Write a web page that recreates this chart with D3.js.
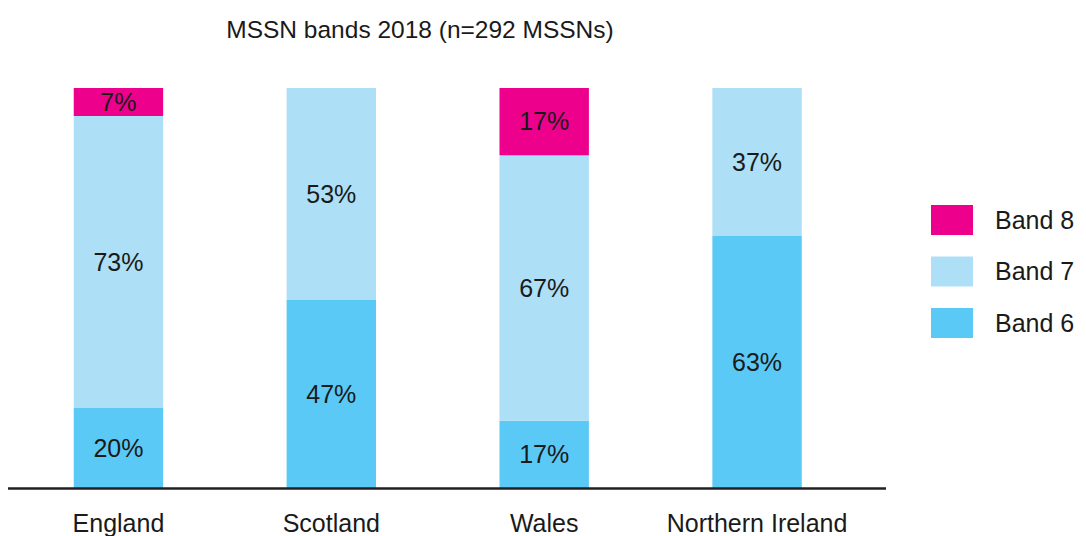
<!DOCTYPE html>
<html>
<head>
<meta charset="utf-8">
<script src="https://cdn.jsdelivr.net/npm/d3@7"></script>
<style>
  body { margin: 0; background: #fff; }
  text { font-family: "Liberation Sans", Arial, Helvetica, sans-serif; fill: #1a1a1a; }
</style>
</head>
<body>
<div id="chart"></div>
<script>
const countries = ['England', 'Scotland', 'Wales', 'Northern Ireland'];
const bands = ['Band 6', 'Band 7', 'Band 8'];
const band6 = [20, 47, 17, 63];
const band7 = [73, 53, 67, 37];
const band8 = [7, 0, 17, 0];
const colors = ['#5BC9F5', '#ADDFF6', '#EC008C'];

const width = 1086;
const height = 536;

const rows = countries.map((c, i) => ({
  country: c,
  'Band 6': band6[i],
  'Band 7': band7[i],
  'Band 8': band8[i],
}));

// shares are rounded, so scale each bar to a full 100%
const stack = d3.stack().keys(bands).offset(d3.stackOffsetExpand)(rows);

const svg = d3.select('#chart')
  .append('svg')
  .attr('width', width)
  .attr('height', height);

const x = d3.scaleBand()
  .domain(countries)
  .range([12, 863.5])
  .paddingInner(0.58)
  .paddingOuter(0.29);

const y = d3.scaleLinear().domain([0, 1]).range([488, 88]);

const color = d3.scaleOrdinal().domain(bands).range(colors);

// title
svg.append('text')
  .attr('x', 420)
  .attr('y', 38)
  .attr('text-anchor', 'middle')
  .style('font-size', '24.5px')
  .text('MSSN bands 2018 (n=292 MSSNs)');

const layers = svg.append('g')
  .selectAll('g')
  .data(stack)
  .join('g')
  .attr('fill', (d) => color(d.key));

layers.selectAll('rect')
  .data((d) => d.map((s) => Object.assign(s, { key: d.key })).filter((s) => s[1] > s[0]))
  .join('rect')
  .attr('x', (d) => x(d.data.country))
  .attr('width', x.bandwidth())
  .attr('y', (d) => y(d[1]))
  .attr('height', (d) => y(d[0]) - y(d[1]));

// value labels
layers.selectAll('text')
  .data((d) => d.filter((s) => s[1] > s[0]))
  .join('text')
  .attr('x', (d) => x(d.data.country) + x.bandwidth() / 2)
  .attr('y', (d) => (y(d[0]) + y(d[1])) / 2)
  .attr('dy', '0.35em')
  .attr('text-anchor', 'middle')
  .style('font-size', '25px')
  .text((d) => d.data[d.key] + '%');

// baseline
svg.append('line')
  .attr('x1', 8)
  .attr('x2', 886)
  .attr('y1', y(0) + 0.5)
  .attr('y2', y(0) + 0.5)
  .attr('stroke', '#231f20')
  .attr('stroke-width', 2.5);

// category labels
svg.append('g')
  .selectAll('text')
  .data(countries)
  .join('text')
  .attr('x', (d) => x(d) + x.bandwidth() / 2)
  .attr('y', 532)
  .attr('text-anchor', 'middle')
  .style('font-size', '25px')
  .text((d) => d);

// legend
const legend = svg.append('g')
  .selectAll('g')
  .data(bands.slice().reverse())
  .join('g')
  .attr('transform', (d, i) => `translate(931, ${205 + i * 51.5})`);

legend.append('rect')
  .attr('width', 42)
  .attr('height', 30)
  .attr('fill', (d) => color(d));

legend.append('text')
  .attr('x', 64)
  .attr('y', 15)
  .attr('dy', '0.35em')
  .style('font-size', '25px')
  .text((d) => d);
</script>
</body>
</html>
